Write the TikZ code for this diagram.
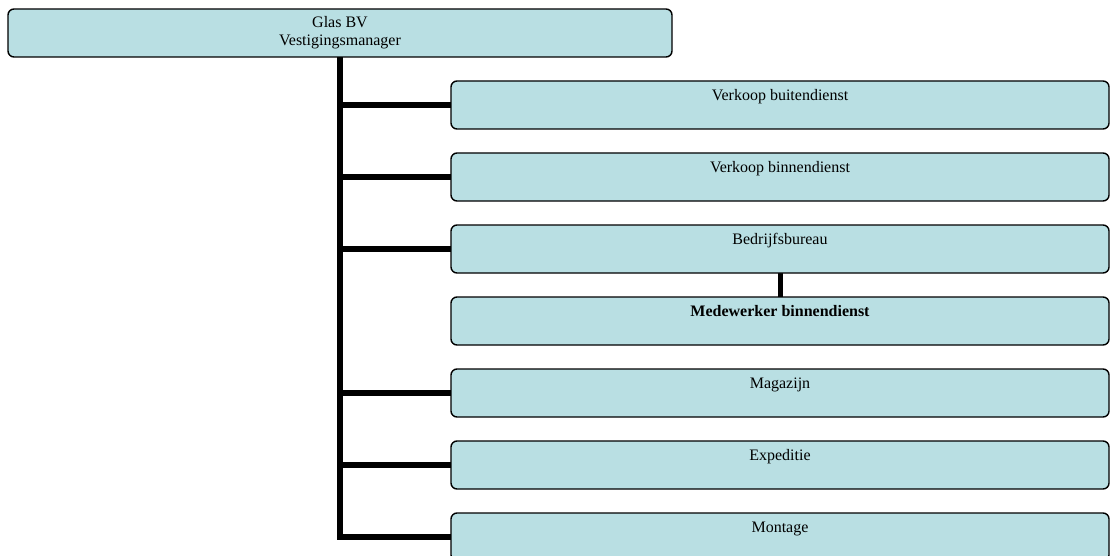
\documentclass[tikz,border=0pt]{standalone}
\usepackage{fontspec}
\setmainfont{Liberation Serif}
\usetikzlibrary{backgrounds}
\definecolor{boxfill}{HTML}{B9DFE3}
\begin{document}
\begin{tikzpicture}[x=1pt,y=-1pt,
  orgbox/.style={draw=black, line width=1.4pt, fill=boxfill, rounded corners=6pt,
    minimum height=48pt, inner sep=0pt, outer sep=0pt, anchor=north west},
  topbox/.style={orgbox, minimum width=664pt},
  childbox/.style={orgbox, minimum width=658pt},
  lbl/.style={font=\fontsize{16}{18.7}\selectfont, anchor=base, inner sep=0pt},
  conn/.style={line width=5.5pt, line join=miter}]
\useasboundingbox (0,0) rectangle (1110,556);

\node[topbox, label={[lbl, yshift=-18.3pt]north:Glas BV},
  label={[lbl, yshift=-37pt]north:Vestigingsmanager}] (top) at (8,9) {};

\node[childbox, label={[lbl, yshift=-19.8pt]north:Verkoop buitendienst}] (vbu) at (451,81) {};
\node[childbox, label={[lbl, yshift=-19.8pt]north:Verkoop binnendienst}] (vbi) at (451,153) {};
\node[childbox, label={[lbl, yshift=-19.8pt]north:Bedrijfsbureau}] (bb) at (451,225) {};
\node[childbox, label={[lbl, font=\fontsize{16}{18.7}\selectfont\bfseries, yshift=-19.8pt]north:Medewerker binnendienst}] (mw) at (451,297) {};
\node[childbox, label={[lbl, yshift=-19.8pt]north:Magazijn}] (mag) at (451,369) {};
\node[childbox, label={[lbl, yshift=-19.8pt]north:Expeditie}] (exp) at (451,441) {};
\node[childbox, label={[lbl, yshift=-19.8pt]north:Montage}] (mon) at (451,513) {};

\begin{scope}[on background layer]
  \draw[conn] (top.south) |- (mon.west);
  \draw[conn] (top.south |- vbu.west) -- (vbu.west);
  \draw[conn] (top.south |- vbi.west) -- (vbi.west);
  \draw[conn] (top.south |- bb.west) -- (bb.west);
  \draw[conn] (top.south |- mag.west) -- (mag.west);
  \draw[conn] (top.south |- exp.west) -- (exp.west);
  \draw[conn, line width=5pt] (bb.south) -- (mw.north);
\end{scope}
\end{tikzpicture}
\end{document}
